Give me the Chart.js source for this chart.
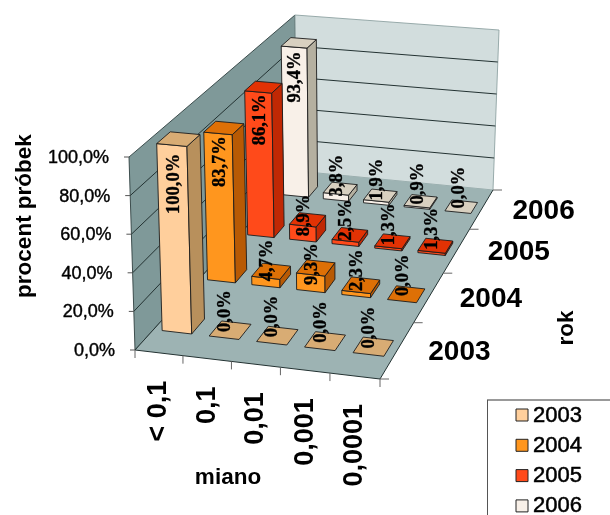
<!DOCTYPE html>
<html><head><meta charset="utf-8">
<style>html,body{margin:0;padding:0;background:#fff;overflow:hidden}#wrap{width:610px;height:515px;position:relative}</style>
<script src="https://cdn.jsdelivr.net/npm/chart.js@4"></script></head>
<body><div id="wrap"><canvas id="c" width="610" height="515"></canvas></div>
<script>
const categories = ['< 0,1', '0,1', '0,01', '0,001', '0,0001'];
const years = ['2003', '2004', '2005', '2006'];
const values2003 = [100.0, 0.0, 0.0, 0.0, 0.0];
const values2004 = [83.7, 4.7, 9.3, 2.3, 0.0];
const values2005 = [86.1, 8.9, 2.5, 1.3, 1.3];
const values2006 = [93.4, 3.8, 1.9, 0.9, 0.0];
const valueTicks = [0, 20, 40, 60, 80, 100];
const axisTitles = { value: 'procent próbek', category: 'miano', year: 'rok' };

const palette = [
  { front: '#FFCF9C', top: '#D8AC74', side: '#B8905C' },
  { front: '#FF961E', top: '#DE7006', side: '#B85A04' },
  { front: '#FF4A1A', top: '#E23204', side: '#C02804' },
  { front: '#F8F0E8', top: '#D8D0C0', side: '#B5B0A0' }
];

/* Camera: how the unit box of the plot lands on the page (floor and ceiling quads). */
const floorQuad = [[135,350],[380,379],[493,190],[297,171]];
const topQuad   = [[129,157],[381,181],[499,30],[295,15]];
const BAR_HALF_U = 0.063, BAR_V0 = 0.37, BAR_V1 = 0.65, BAR_HEIGHT_SCALE = 0.99;

function homography(q) {
  const [[x0,y0],[x1,y1],[x2,y2],[x3,y3]] = q;
  const dx1=x1-x2, dx2=x3-x2, sx=x0-x1+x2-x3, dy1=y1-y2, dy2=y3-y2, sy=y0-y1+y2-y3;
  const den=dx1*dy2-dx2*dy1;
  const g=(sx*dy2-dx2*sy)/den, h=(dx1*sy-sx*dy1)/den;
  const a=x1-x0+g*x1, b=x3-x0+h*x3, d=y1-y0+g*y1, e=y3-y0+h*y3;
  return (u,v)=>{const k=g*u+h*v+1;return [(a*u+b*v+x0)/k,(d*u+e*v+y0)/k];};
}
const floorH = homography(floorQuad), topH = homography(topQuad);
function project(u,v,w){
  const f=floorH(u,v), t=topH(u,v);
  return [f[0]+(t[0]-f[0])*w, f[1]+(t[1]-f[1])*w];
}
function frac(chart){
  const s=chart.scales, a=chart.chartArea;
  return {
    u:i=>(s.x.getPixelForValue(i)-a.left)/(a.right-a.left),
    v:i=>(s.z.getPixelForValue(i)-a.left)/(a.right-a.left),
    w:val=>(a.bottom-s.y.getPixelForValue(val))/(a.bottom-a.top),
    du:(s.x.getPixelForValue(1)-s.x.getPixelForValue(0))/(a.right-a.left),
    dv:(s.z.getPixelForValue(1)-s.z.getPixelForValue(0))/(a.right-a.left)
  };
}
function poly(ctx,pts,fill,stroke,lw){
  ctx.beginPath();pts.forEach((p,i)=>i?ctx.lineTo(p[0],p[1]):ctx.moveTo(p[0],p[1]));ctx.closePath();
  if(fill){ctx.fillStyle=fill;ctx.fill();}
  if(stroke){ctx.strokeStyle=stroke;ctx.lineWidth=lw||1;ctx.stroke();}
}
function line(ctx,a,b,stroke,lw){ctx.beginPath();ctx.moveTo(a[0],a[1]);ctx.lineTo(b[0],b[1]);ctx.strokeStyle=stroke;ctx.lineWidth=lw||1;ctx.stroke();}
function heavy(ctx,txt,x,y,sw){ctx.fillText(txt,x,y);if(sw){ctx.lineWidth=sw;ctx.strokeStyle=ctx.fillStyle;ctx.lineJoin='round';ctx.strokeText(txt,x,y);}}
function rotText(ctx,txt,x,y,align,sw){ctx.save();ctx.translate(x,y);ctx.rotate(-Math.PI/2);ctx.textAlign=align||'center';ctx.textBaseline='middle';heavy(ctx,txt,0,0,sw);ctx.restore();}
function barBox(f,catIdx,yearIdx){
  const uc=f.u(catIdx), u0=uc-BAR_HALF_U, u1=uc+BAR_HALF_U;
  const vBase=f.v(yearIdx)-f.dv/2;
  return {u0,u1,v0:vBase+BAR_V0*f.dv,v1:vBase+BAR_V1*f.dv,uc};
}

class Bar3D extends Chart.BarController {
  draw(){
    const chart=this.chart, ctx=chart.ctx, f=frac(chart), ds=this.getDataset(), yi=this.index;
    ds.data.forEach((val,i)=>{
      const b=barBox(f,i,yi), w=f.w(val)*BAR_HEIGHT_SCALE;
      const p=(u,v,h)=>project(u,v,h);
      const edge='#1c1c1c';
      if(val>0){
        poly(ctx,[p(b.u0,b.v0,0),p(b.u1,b.v0,0),p(b.u1,b.v0,w),p(b.u0,b.v0,w)],ds.front,edge,0.9);
        poly(ctx,[p(b.u1,b.v0,0),p(b.u1,b.v1,0),p(b.u1,b.v1,w),p(b.u1,b.v0,w)],ds.side,edge,0.9);
      }
      poly(ctx,[p(b.u0,b.v0,w),p(b.u1,b.v0,w),p(b.u1,b.v1,w),p(b.u0,b.v1,w)],ds.top,edge,0.9);
    });
  }
}
Bar3D.id='bar3d';
Bar3D.defaults=Chart.BarController.defaults;
Chart.register(Bar3D);

const box3d={
  id:'box3d',
  beforeDatasetsDraw(chart){
    const ctx=chart.ctx, f=frac(chart);
    const dark='#233232';
    poly(ctx,[project(0,0,0),project(0,1,0),project(0,1,1),project(0,0,1)],'#7F9999','#2f3f3f',0.9);
    poly(ctx,[project(0,1,0),project(1,1,0),project(1,1,1),project(0,1,1)],'#D2DDDD','#8fa3a3',0.9);
    poly(ctx,[project(0,0,0),project(1,0,0),project(1,1,0),project(0,1,0)],'#9DB3B3',null);
    valueTicks.forEach(t=>{
      const w=f.w(t);
      if(t>0&&t<100){
        line(ctx,project(0,0,w),project(0,1,w),dark,1);
        line(ctx,project(0,1,w),project(1,1,w),dark,1);
      }
      const a=project(0,0,w);
      line(ctx,[a[0]-5,a[1]],a,'#555',1);
    });
    line(ctx,project(0,0,0),project(1,0,0),dark,1);
    line(ctx,project(1,0,0),project(1,1,0),dark,1);
    line(ctx,project(0,0,0),project(0,1,0),dark,1);
    for(let i=0;i<=categories.length;i++){
      const a=project(i/categories.length,0,0);
      line(ctx,a,[a[0],a[1]+8],'#666',1);
    }
    for(let i=0;i<=years.length;i++){
      const a=project(1,i/years.length,0);
      line(ctx,a,[a[0]+9,a[1]],'#666',1);
    }
  },
  afterDatasetsDraw(chart){
    const ctx=chart.ctx, f=frac(chart);
    ctx.fillStyle='#000';
    ctx.font='bold 18.5px "Liberation Serif"';
    chart.data.datasets.forEach((ds,yi)=>{
      ds.data.forEach((val,i)=>{
        const b=barBox(f,i,yi), w=f.w(val);
        const F=project(b.uc,b.v0,0), T=project(b.uc,b.v0,w), M=project(b.uc,(b.v0+b.v1)/2,0);
        const h=F[1]-T[1];
        const y=M[1]-19-0.7*Math.max(0,h-15), x=F[0]+(T[0]-F[0])*0.68+1;
        rotText(ctx,val.toFixed(1).replace('.',',')+'%',x,y,'center',0.35);
      });
    });
    // value axis labels
    ctx.font='18px "Liberation Sans"';
    ctx.textAlign='right';ctx.textBaseline='middle';
    valueTicks.forEach(t=>{
      const a=project(0,0,f.w(t));
      heavy(ctx,t.toFixed(1).replace('.',',')+'%',a[0]-20,a[1]+1,0.4);
    });
    // category labels
    ctx.font='bold 27px "Liberation Sans"';
    categories.forEach((c,i)=>{
      const a=project(f.u(i),0,0);
      rotText(ctx,c,a[0],a[1]+28,'right');
    });
    // year labels
    ctx.textAlign='center';ctx.textBaseline='middle';
    ctx.font='bold 28px "Liberation Sans"';
    years.forEach((yr,i)=>{
      const a=project(1,f.v(i),0);
      ctx.fillText(yr,a[0]+62,a[1]+2);
    });
    // titles
    ctx.font='bold 22.5px "Liberation Sans"';
    ctx.fillText(axisTitles.category,228,478);
    rotText(ctx,axisTitles.value,25,216);
    rotText(ctx,axisTitles.year,567,328);
    // legend
    ctx.fillStyle='#fff';ctx.fillRect(487,400,123,115);
    line(ctx,[487,400],[610,400],'#999',2);
    line(ctx,[487.5,400],[487.5,515],'#555',1);
    ctx.textAlign='left';ctx.textBaseline='middle';
    ctx.font='22px "Liberation Sans"';
    chart.data.datasets.forEach((ds,i)=>{
      const y=415+i*30.3;
      poly(ctx,[[516,y-6],[528,y-6],[528,y+6],[516,y+6]],ds.front,'#222',1);
      ctx.fillStyle='#000';
      heavy(ctx,ds.label,533,y+0.5,0.5);
    });
  }
};

const seriesValues=[values2003,values2004,values2005,values2006];
new Chart(document.getElementById('c'),{
  type:'bar3d',
  data:{labels:categories,datasets:years.map((y,i)=>({type:'bar3d',label:y,data:seriesValues[i],front:palette[i].front,top:palette[i].top,side:palette[i].side,backgroundColor:palette[i].front,xAxisID:'x',yAxisID:'y'}))},
  options:{
    responsive:false,animation:false,devicePixelRatio:1,
    layout:{padding:0},
    plugins:{legend:{display:false},title:{display:false},tooltip:{enabled:false}},
    scales:{
      x:{type:'category',labels:categories,display:false,offset:true},
      z:{type:'category',axis:'x',labels:years,display:false,offset:true},
      y:{type:'linear',min:0,max:100,display:false}
    }
  },
  plugins:[box3d]
});
</script></body></html>
